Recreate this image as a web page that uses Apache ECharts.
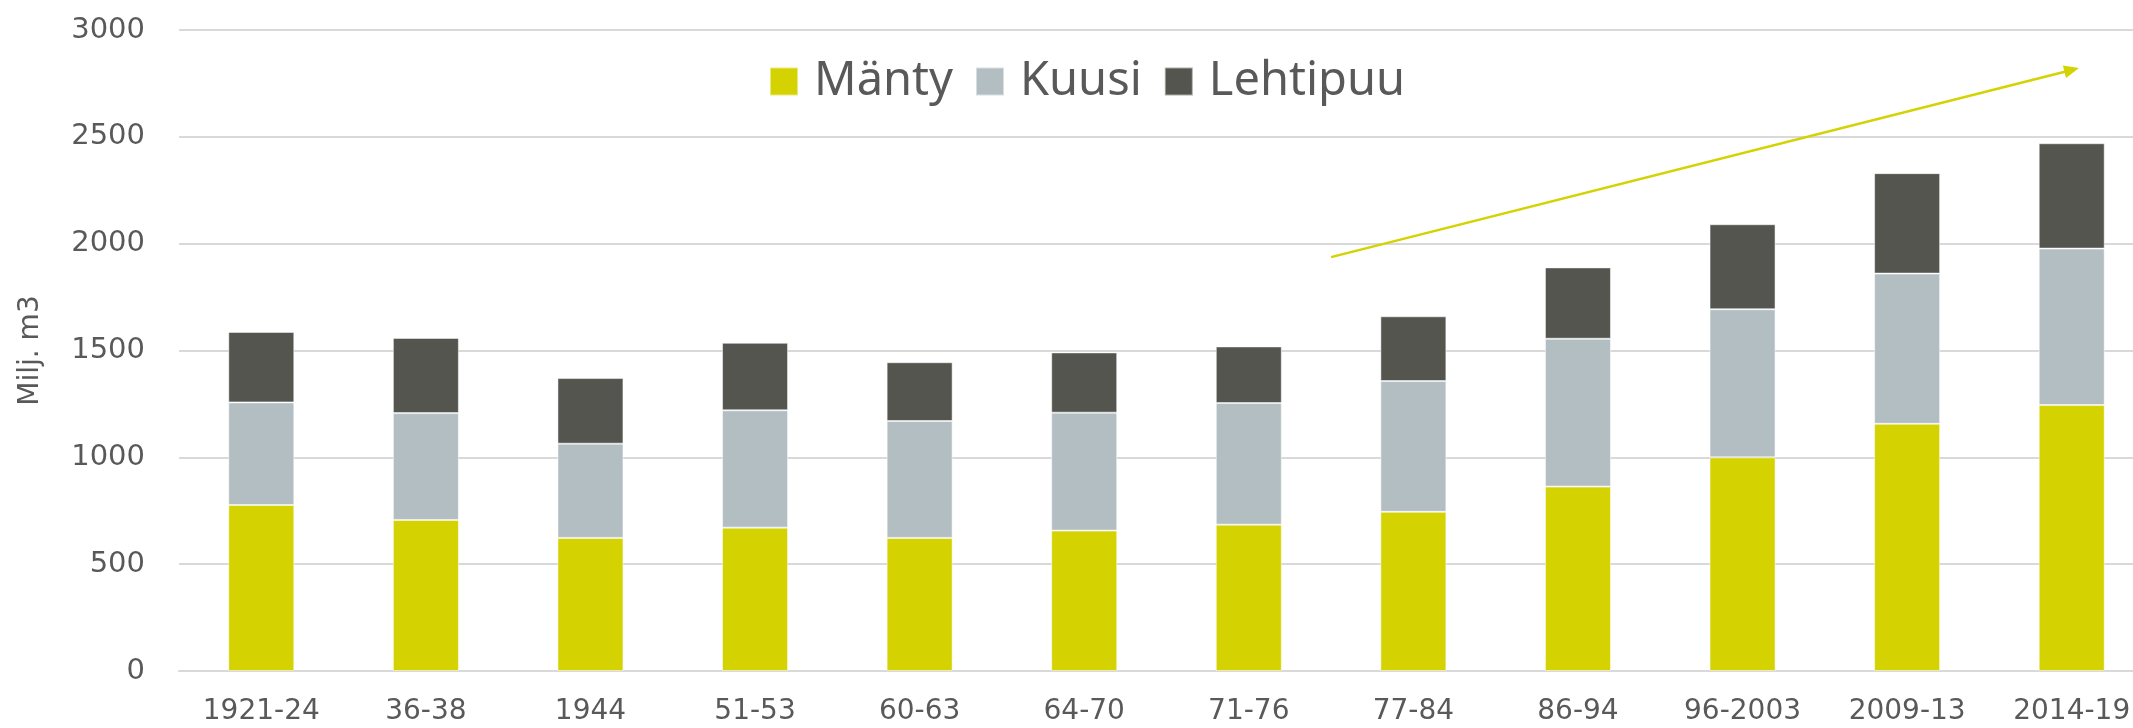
<!DOCTYPE html>
<html>
<head>
<meta charset="utf-8">
<script src="https://cdn.jsdelivr.net/npm/echarts@6/dist/echarts.min.js"></script>
<style>
  html, body { margin: 0; padding: 0; background: #fff; }
  #chart { width: 2133px; height: 728px; }
</style>
</head>
<body>
<div id="chart"></div>
<script>
// jaksot (inventointikaudet)
const periods = ['1921-24', '36-38', '1944', '51-53', '60-63', '64-70', '71-76', '77-84', '86-94', '96-2003', '2009-13', '2014-19'];
// puuston tilavuus, milj. m3
const manty = [777, 707, 623, 671, 623, 657, 685, 745, 863, 1000, 1157, 1245];
const kuusi = [480, 500, 441, 549, 547, 552, 569, 612, 692, 693, 703, 732];
const lehtipuu = [330, 352, 307, 316, 275, 282, 265, 303, 334, 398, 470, 493];
// y-akselin asteikko
const yTicks = [0, 500, 1000, 1500, 2000, 2500, 3000];
// trendinuoli: [kategoria-indeksi, arvo]
const trendStart = [6.5, 1937];
const trendEnd = [11, 2813];

const colors = {
  manty: '#d4d200',
  kuusi: '#b3bec3',
  lehtipuu: '#54554f'
};

const chart = echarts.init(document.getElementById('chart'));

function barSeries(name, data, color) {
  return {
    name: name,
    type: 'bar',
    stack: 'total',
    barWidth: 66,
    data: data,
    itemStyle: {
      color: color,
      borderColor: 'rgba(255,255,255,0.5)',
      borderWidth: 1
    }
  };
}

const option = {
  animation: false,
  backgroundColor: '#fff',
  grid: {
    left: 179,
    right: -21,
    top: 30,
    bottom: 57,
    containLabel: false,
    outerBoundsMode: 'none'
  },
  legend: {
    data: ['Mänty', 'Kuusi', 'Lehtipuu'],
    left: 764,
    top: 53,
    itemWidth: 28,
    itemHeight: 28,
    itemGap: 22,
    icon: 'rect',
    textStyle: {
      fontFamily: 'Noto Sans',
      fontSize: 47,
      color: '#595959',
      padding: [0, 0, 0, 11]
    }
  },
  xAxis: [
    {
      type: 'category',
      data: periods,
      axisTick: { show: false },
      axisLine: { lineStyle: { color: '#d9d9d9', width: 2 } },
      axisLabel: {
        fontFamily: 'DejaVu Sans',
        fontSize: 28,
        color: '#595959',
        margin: 27,
        interval: 0
      }
    },
    {
      // apuakseli trendinuolelle
      type: 'value',
      min: -0.5,
      max: 11.5,
      show: false
    }
  ],
  yAxis: {
    type: 'value',
    min: yTicks[0],
    max: yTicks[yTicks.length - 1],
    interval: 500,
    name: 'Milj. m3',
    nameLocation: 'middle',
    nameGap: 134,
    nameTextStyle: {
      fontFamily: 'DejaVu Sans',
      fontSize: 28,
      color: '#595959'
    },
    axisLine: { show: false },
    axisTick: { show: false },
    axisLabel: {
      fontFamily: 'DejaVu Sans',
      fontSize: 29,
      color: '#595959',
      margin: 34,
      formatter: (v) => String(v)
    },
    splitLine: { lineStyle: { color: '#d9d9d9', width: 2 } }
  },
  series: [
    barSeries('Mänty', manty, colors.manty),
    barSeries('Kuusi', kuusi, colors.kuusi),
    barSeries('Lehtipuu', lehtipuu, colors.lehtipuu),
    {
      name: 'trend',
      type: 'line',
      xAxisIndex: 1,
      data: [],
      silent: true,
      markLine: {
        silent: true,
        symbol: ['none', 'triangle'],
        symbolSize: [13, 15],
        label: { show: false },
        lineStyle: { color: colors.manty, width: 2.5, type: 'solid' },
        data: [[{ coord: trendStart }, { coord: trendEnd }]]
      }
    }
  ]
};

chart.setOption(option);
</script>
</body>
</html>
